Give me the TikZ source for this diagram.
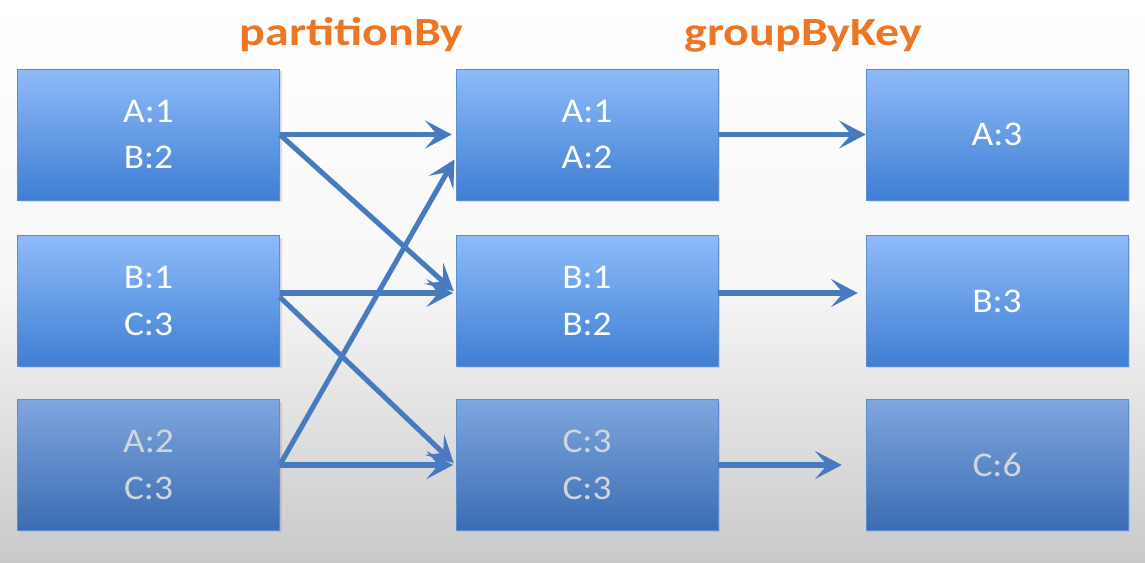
\documentclass[tikz,border=0pt]{standalone}
\usepackage{fontspec}
\setmainfont{Carlito}[FakeStretch=1.08]
\newfontfamily\stagefont{Carlito}[FakeStretch=1.2]
\usepackage{tikz}
\usetikzlibrary{positioning}
\usetikzlibrary{arrows.meta,shadows}
\definecolor{boxtop}{RGB}{141,187,249}
\definecolor{boxbot}{RGB}{63,126,211}
\definecolor{boxline}{RGB}{92,140,210}
\definecolor{dimtop}{RGB}{128,166,222}
\definecolor{dimbot}{RGB}{58,108,178}
\definecolor{dimtext}{RGB}{208,214,222}
\definecolor{flowblue}{RGB}{72,122,192}
\definecolor{titleorange}{RGB}{236,118,36}
\tikzset{
    part/.style={draw=boxline, thin, top color=boxtop, bottom color=boxbot,
		minimum width=196.5pt, minimum height=98pt, inner sep=0pt,
		text=white, align=center, font=\fontsize{26}{35}\selectfont,
		drop shadow={opacity=0.25, shadow xshift=1.5pt, shadow yshift=-1.5pt}},
    dimmed/.style={top color=dimtop, bottom color=dimbot, text=dimtext},
    flow/.style={draw=flowblue, line width=3.8pt, -{Stealth[length=20pt, width=21pt, inset=9pt]}},
    stage/.style={text=titleorange, font=\stagefont\bfseries\fontsize{30}{34}\selectfont, anchor=base}
}

\begin{document}
\begin{tikzpicture}[x=0.75pt, y=-0.75pt]
			\useasboundingbox (0,0) rectangle (1145,562);
			\fill[top color=white, bottom color=black!21, middle color=black!3] (0,0) rectangle (1145,562);
			\node[stage] (partition) at (351.5,45) {partitionBy};
			\node[stage] (group) at (803.5,45) {groupByKey};
			% input partitions
			\node[part] (a1) at (148.5,134.5) {A:1\\B:2};
			\node[part] (a2) at (148.5,301) {B:1\\C:3};
			\node[part, dimmed] (a3) at (148.5,465) {A:2\\C:3};
			% after partitionBy
			\node[part] (b1) at (587,134.5) {A:1\\A:2};
			\node[part] (b2) at (587,301) {B:1\\B:2};
			\node[part, dimmed] (b3) at (587,465) {C:3\\C:3};
			% after groupByKey
			\node[part] (c1) at (997,134.5) {A:3};
			\node[part] (c2) at (997,301) {B:3};
			\node[part, dimmed] (c3) at (997,465) {C:6};
			\draw[flow, shorten >=3pt] (a1.east) -- (b1.west);
			\draw[flow, shorten >=2pt] (a1.east) -- ([yshift=6pt]b2.west);
			\draw[flow, shorten >=2pt] ([yshift=6pt]a2.east) -- ([yshift=6pt]b2.west);
			\draw[flow, shorten >=2pt] ([yshift=3pt]a2.east) -- (b3.west);
			\draw[flow, shorten >=2pt] (a3.east) -- ([yshift=-17pt]b1.west);
			\draw[flow, shorten >=2pt] (a3.east) -- (b3.west);
			\draw[flow] (b1.east) -- (c1.west);
			\draw[flow, shorten >=6pt] ([yshift=6pt]b2.east) -- ([yshift=6pt]c2.west);
			\draw[flow, shorten >=18pt] (b3.east) -- (c3.west);
	\end{tikzpicture}
\end{document}
